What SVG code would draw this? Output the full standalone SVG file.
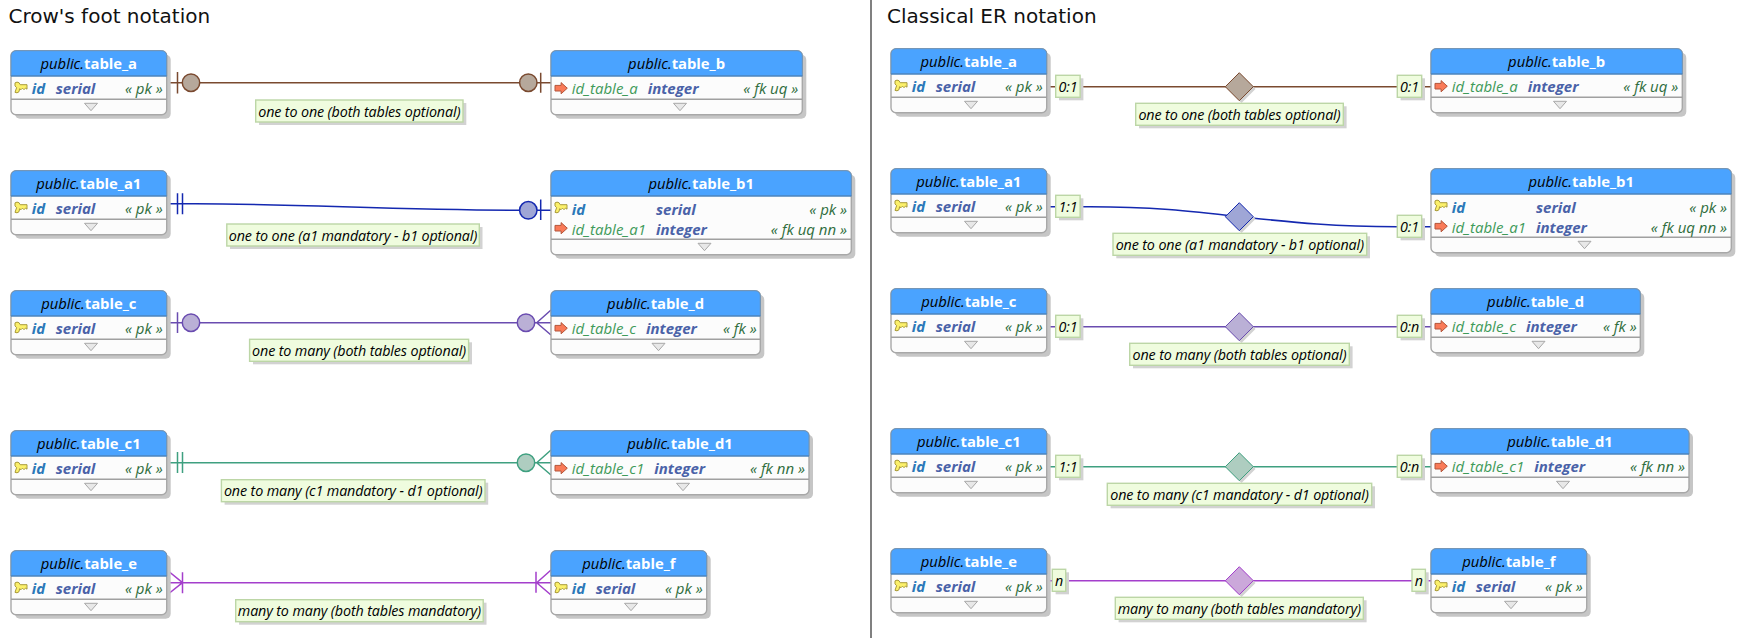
<svg xmlns="http://www.w3.org/2000/svg" xmlns:xlink="http://www.w3.org/1999/xlink" width="1750" height="638" viewBox="0 0 1750 638">
<style>
text{font-family:"Open Sans","Noto Sans","Liberation Sans",sans-serif;font-style:italic}
.title{font-family:"DejaVu Sans",sans-serif;font-style:normal;font-size:20px;fill:#111}
.shadow{fill:#c6c6c6}
.body{fill:#fcfcfc;stroke:#a8a8a8;stroke-width:1.4}
.head{fill:#4aa3ff;stroke:#6f93b5;stroke-width:1}
.sep{stroke:#a0a0a0;stroke-width:1.4;fill:none}
.hl{stroke:#3a7cc0;stroke-width:1.2}
.ht{font-size:14.8px;fill:#000;text-anchor:middle;transform:translateY(1px)}
.ht tspan{font-style:normal;font-weight:700;fill:#fff}
.pk{font-size:15px;font-weight:700;fill:#2b78b8;transform:translateY(.7px)}
.fk{font-size:15px;fill:#3f9a5a;transform:translateY(.7px)}
.ty{font-size:15px;font-weight:700;fill:#4a62a8;transform:translateY(.7px)}
.cn{font-size:15px;fill:#2f6d3c;text-anchor:end;transform:translateY(.7px)}
.lbs{fill:#d2d2d2}
.lb{fill:#effcde;stroke:#bcd6a6;stroke-width:1.4}
.lt{font-size:14.3px;letter-spacing:-.12px;fill:#000;text-anchor:middle;transform:translateY(.7px)}
.c{fill:none;stroke-width:1.5}
.br{stroke:#7a4a30}.bl{stroke:#1428b0}.pu{stroke:#6a4cb0}.gr{stroke:#3fa080}.vi{stroke:#a43fcc}
.fbr{fill:#b6a89b}.fbl{fill:#9fa6d6}.fpu{fill:#bab0d6}.fgr{fill:#aecdc0}.fvi{fill:#cba8da}
.dsh{fill:#d2d2d2}
</style>
<defs>
<g id="key"><path transform="translate(0,-1.5)" d="M1 1.2Q3 -.3 5 1L6.2 3H13V7.5L11.5 6.4 10 8 8.5 6.5 7 8 5.6 7 5 10Q3 12 1 10.6L2.6 6 1 4.2Z" fill="#fbf06a" stroke="#a89a3a" stroke-width="1"/></g>
<g id="arr"><path d="M.5 3.2H6.6V.4L12.8 6 6.6 11.6V8.8H.5Z" fill="#f97a58" stroke="#b4553a" stroke-width="1"/></g>
<path id="tri" d="M-6.5 0H6.5L0 7.4Z" fill="#e8e8e8" stroke="#a8a8a8" stroke-width="1"/>
<path id="dia" d="M-14 0L0 -14 14 0 0 14Z"/>
</defs>
<rect width="1750" height="638" fill="#fff"/>
<text class="title" x="8.5" y="23">Crow's foot notation</text>
<text class="title" x="887" y="23">Classical ER notation</text>
<rect x="870" y="0" width="2" height="638" fill="#808080"/>

<g id="connectors">
<g id="crow-ab">
<path class="c br" d="M167 82.7H551"/>
<path class="c br" d="M177.5 72V93.5M540.7 72.7V92.7"/>
<circle class="fbr br" cx="191" cy="82.7" r="8.7" stroke-width="1.5"/><circle class="fbr br" cx="528.3" cy="82.7" r="8.7" stroke-width="1.5"/>
</g>
<g id="crow-a1b1">
<path class="c bl" d="M167 203.7H195C300 204 400 210.3 519 210.3H551"/>
<path class="c bl" d="M177.5 193.3V214.3M182.5 193.3V214.3M540.7 199.5V220"/>
<circle class="fbl bl" cx="528.3" cy="210.3" r="8.7" stroke-width="1.5"/>
</g>
<g id="crow-cd">
<path class="c pu" d="M167 322.7H551M177.5 312.3V333M536.7 322.7L551 310M536.7 322.7L551 335"/>
<circle class="fpu pu" cx="191" cy="322.7" r="8.7" stroke-width="1.5"/><circle class="fpu pu" cx="526" cy="322.7" r="8.7" stroke-width="1.5"/>
</g>
<g id="crow-c1d1">
<path class="c gr" d="M167 462.7H551M177.5 452V473M182.5 452V473M536.7 462.7L551 450M536.7 462.7L551 475"/>
<circle class="fgr gr" cx="526" cy="462.7" r="8.7" stroke-width="1.5"/>
</g>
<g id="crow-ef">
<path class="c vi" d="M167 582.7H551M182.5 572.3V593.3M536 571.7V592.7M182.5 582.7L167 570M182.5 582.7L167 595M536.7 582.7L551 570M536.7 582.7L551 595"/>
</g>
<g id="er-ab">
<path class="c br" d="M1046 86.7H1431"/><use href="#dia" x="1241.5" y="89" class="dsh"/><use href="#dia" x="1239.3" y="86.7" class="fbr br" stroke-width="1"/>
</g>
<g id="er-a1b1">
<path class="c bl" d="M1046 206.7H1090C1150 206.7 1190 211 1239.3 216.7C1290 222 1330 226.7 1397 226.7H1431"/><use href="#dia" x="1241.5" y="219" class="dsh"/><use href="#dia" x="1239.3" y="216.7" class="fbl bl" stroke-width="1"/>
</g>
<g id="er-cd">
<path class="c pu" d="M1046 326.7H1431"/><use href="#dia" x="1241.5" y="329" class="dsh"/><use href="#dia" x="1239.3" y="326.7" class="fpu pu" stroke-width="1"/>
</g>
<g id="er-c1d1">
<path class="c gr" d="M1046 466.7H1431"/><use href="#dia" x="1241.5" y="469" class="dsh"/><use href="#dia" x="1239.3" y="466.7" class="fgr gr" stroke-width="1"/>
</g>
<g id="er-ef">
<path class="c vi" d="M1046 580.7H1431"/><use href="#dia" x="1241.5" y="583" class="dsh"/><use href="#dia" x="1239.3" y="580.7" class="fvi vi" stroke-width="1"/>
</g>
</g>

<g id="cf-table_a" transform="translate(11,50.7)">
<rect class="shadow" x="4" y="4" width="155.7" height="64" rx="5"/><rect class="body" width="155.7" height="64" rx="5"/>
<path class="head" d="M0 25.3V5A5 5 0 0 1 5 0H150.7A5 5 0 0 1 155.7 5V25.3Z"/><path class="hl" d="M0 25.3H155.7"/><path class="sep" d="M0 48.6H155.7"/>
<text class="ht" x="77.8" y="17.8">public.<tspan>table_a</tspan></text>
<use href="#key" x="3" y="32.5"/><text class="pk" x="20.7" y="43">id</text><text class="ty" x="44.7" y="43">serial</text><text class="cn" x="151.7" y="43">« pk »</text>
<use href="#tri" x="80" y="52.6"/>
</g>
<g id="cf-table_b" transform="translate(551,50.7)">
<rect class="shadow" x="4" y="4" width="251.3" height="64" rx="5"/><rect class="body" width="251.3" height="64" rx="5"/>
<path class="head" d="M0 25.3V5A5 5 0 0 1 5 0H246.3A5 5 0 0 1 251.3 5V25.3Z"/><path class="hl" d="M0 25.3H251.3"/><path class="sep" d="M0 48.6H251.3"/>
<text class="ht" x="125.6" y="17.8">public.<tspan>table_b</tspan></text>
<use href="#arr" x="3.5" y="31.5"/><text class="fk" x="20.7" y="43">id_table_a</text><text class="ty" x="96.7" y="43">integer</text><text class="cn" x="247.3" y="43">« fk uq »</text>
<use href="#tri" x="129" y="52.6"/>
</g>
<g id="cf-table_a1" transform="translate(11,170.7)">
<rect class="shadow" x="4" y="4" width="155.7" height="64" rx="5"/><rect class="body" width="155.7" height="64" rx="5"/>
<path class="head" d="M0 25.3V5A5 5 0 0 1 5 0H150.7A5 5 0 0 1 155.7 5V25.3Z"/><path class="hl" d="M0 25.3H155.7"/><path class="sep" d="M0 48.6H155.7"/>
<text class="ht" x="77.8" y="17.8">public.<tspan>table_a1</tspan></text>
<use href="#key" x="3" y="32.5"/><text class="pk" x="20.7" y="43">id</text><text class="ty" x="44.7" y="43">serial</text><text class="cn" x="151.7" y="43">« pk »</text>
<use href="#tri" x="80" y="52.6"/>
</g>
<g id="cf-table_b1" transform="translate(551,170.7)">
<rect class="shadow" x="4" y="4" width="300.3" height="84" rx="5"/><rect class="body" width="300.3" height="84" rx="5"/>
<path class="head" d="M0 25.3V5A5 5 0 0 1 5 0H295.3A5 5 0 0 1 300.3 5V25.3Z"/><path class="hl" d="M0 25.3H300.3"/><path class="sep" d="M0 68.6H300.3"/>
<text class="ht" x="150.2" y="17.8">public.<tspan>table_b1</tspan></text>
<use href="#key" x="3" y="32.5"/><text class="pk" x="20.7" y="43.6">id</text><text class="ty" x="105" y="43.6">serial</text><text class="cn" x="296" y="43.6">« pk »</text>
<use href="#arr" x="3.5" y="51.5"/><text class="fk" x="20.7" y="63.6">id_table_a1</text><text class="ty" x="105" y="63.6">integer</text><text class="cn" x="296" y="63.6">« fk uq nn »</text>
<use href="#tri" x="153.5" y="72.6"/>
</g>
<g id="cf-table_c" transform="translate(11,290.7)">
<rect class="shadow" x="4" y="4" width="155.7" height="64" rx="5"/><rect class="body" width="155.7" height="64" rx="5"/>
<path class="head" d="M0 25.3V5A5 5 0 0 1 5 0H150.7A5 5 0 0 1 155.7 5V25.3Z"/><path class="hl" d="M0 25.3H155.7"/><path class="sep" d="M0 48.6H155.7"/>
<text class="ht" x="77.8" y="17.8">public.<tspan>table_c</tspan></text>
<use href="#key" x="3" y="32.5"/><text class="pk" x="20.7" y="43">id</text><text class="ty" x="44.7" y="43">serial</text><text class="cn" x="151.7" y="43">« pk »</text>
<use href="#tri" x="80" y="52.6"/>
</g>
<g id="cf-table_d" transform="translate(551,290.7)">
<rect class="shadow" x="4" y="4" width="209.3" height="64" rx="5"/><rect class="body" width="209.3" height="64" rx="5"/>
<path class="head" d="M0 25.3V5A5 5 0 0 1 5 0H204.3A5 5 0 0 1 209.3 5V25.3Z"/><path class="hl" d="M0 25.3H209.3"/><path class="sep" d="M0 48.6H209.3"/>
<text class="ht" x="104.6" y="17.8">public.<tspan>table_d</tspan></text>
<use href="#arr" x="3.5" y="31.5"/><text class="fk" x="20.7" y="43">id_table_c</text><text class="ty" x="95" y="43">integer</text><text class="cn" x="205.7" y="43">« fk »</text>
<use href="#tri" x="107.5" y="52.6"/>
</g>
<g id="cf-table_c1" transform="translate(11,430.7)">
<rect class="shadow" x="4" y="4" width="155.7" height="64" rx="5"/><rect class="body" width="155.7" height="64" rx="5"/>
<path class="head" d="M0 25.3V5A5 5 0 0 1 5 0H150.7A5 5 0 0 1 155.7 5V25.3Z"/><path class="hl" d="M0 25.3H155.7"/><path class="sep" d="M0 48.6H155.7"/>
<text class="ht" x="77.8" y="17.8">public.<tspan>table_c1</tspan></text>
<use href="#key" x="3" y="32.5"/><text class="pk" x="20.7" y="43">id</text><text class="ty" x="44.7" y="43">serial</text><text class="cn" x="151.7" y="43">« pk »</text>
<use href="#tri" x="80" y="52.6"/>
</g>
<g id="cf-table_d1" transform="translate(551,430.7)">
<rect class="shadow" x="4" y="4" width="258" height="64" rx="5"/><rect class="body" width="258" height="64" rx="5"/>
<path class="head" d="M0 25.3V5A5 5 0 0 1 5 0H253A5 5 0 0 1 258 5V25.3Z"/><path class="hl" d="M0 25.3H258"/><path class="sep" d="M0 48.6H258"/>
<text class="ht" x="129" y="17.8">public.<tspan>table_d1</tspan></text>
<use href="#arr" x="3.5" y="31.5"/><text class="fk" x="20.7" y="43">id_table_c1</text><text class="ty" x="103.3" y="43">integer</text><text class="cn" x="254" y="43">« fk nn »</text>
<use href="#tri" x="132" y="52.6"/>
</g>
<g id="cf-table_e" transform="translate(11,550.7)">
<rect class="shadow" x="4" y="4" width="155.7" height="64" rx="5"/><rect class="body" width="155.7" height="64" rx="5"/>
<path class="head" d="M0 25.3V5A5 5 0 0 1 5 0H150.7A5 5 0 0 1 155.7 5V25.3Z"/><path class="hl" d="M0 25.3H155.7"/><path class="sep" d="M0 48.6H155.7"/>
<text class="ht" x="77.8" y="17.8">public.<tspan>table_e</tspan></text>
<use href="#key" x="3" y="32.5"/><text class="pk" x="20.7" y="43">id</text><text class="ty" x="44.7" y="43">serial</text><text class="cn" x="151.7" y="43">« pk »</text>
<use href="#tri" x="80" y="52.6"/>
</g>
<g id="cf-table_f" transform="translate(551,550.7)">
<rect class="shadow" x="4" y="4" width="155.7" height="64" rx="5"/><rect class="body" width="155.7" height="64" rx="5"/>
<path class="head" d="M0 25.3V5A5 5 0 0 1 5 0H150.7A5 5 0 0 1 155.7 5V25.3Z"/><path class="hl" d="M0 25.3H155.7"/><path class="sep" d="M0 48.6H155.7"/>
<text class="ht" x="77.8" y="17.8">public.<tspan>table_f</tspan></text>
<use href="#key" x="3" y="32.5"/><text class="pk" x="20.7" y="43">id</text><text class="ty" x="44.7" y="43">serial</text><text class="cn" x="151.7" y="43">« pk »</text>
<use href="#tri" x="80" y="52.6"/>
</g>

<g id="er-table_a" transform="translate(891,48.7)">
<rect class="shadow" x="4" y="4" width="155.7" height="64" rx="5"/><rect class="body" width="155.7" height="64" rx="5"/>
<path class="head" d="M0 25.3V5A5 5 0 0 1 5 0H150.7A5 5 0 0 1 155.7 5V25.3Z"/><path class="hl" d="M0 25.3H155.7"/><path class="sep" d="M0 48.6H155.7"/>
<text class="ht" x="77.8" y="17.8">public.<tspan>table_a</tspan></text>
<use href="#key" x="3" y="32.5"/><text class="pk" x="20.7" y="43">id</text><text class="ty" x="44.7" y="43">serial</text><text class="cn" x="151.7" y="43">« pk »</text>
<use href="#tri" x="80" y="52.6"/>
</g>
<g id="er-table_b" transform="translate(1431,48.7)">
<rect class="shadow" x="4" y="4" width="251.3" height="64" rx="5"/><rect class="body" width="251.3" height="64" rx="5"/>
<path class="head" d="M0 25.3V5A5 5 0 0 1 5 0H246.3A5 5 0 0 1 251.3 5V25.3Z"/><path class="hl" d="M0 25.3H251.3"/><path class="sep" d="M0 48.6H251.3"/>
<text class="ht" x="125.6" y="17.8">public.<tspan>table_b</tspan></text>
<use href="#arr" x="3.5" y="31.5"/><text class="fk" x="20.7" y="43">id_table_a</text><text class="ty" x="96.7" y="43">integer</text><text class="cn" x="247.3" y="43">« fk uq »</text>
<use href="#tri" x="129" y="52.6"/>
</g>
<g id="er-table_a1" transform="translate(891,168.7)">
<rect class="shadow" x="4" y="4" width="155.7" height="64" rx="5"/><rect class="body" width="155.7" height="64" rx="5"/>
<path class="head" d="M0 25.3V5A5 5 0 0 1 5 0H150.7A5 5 0 0 1 155.7 5V25.3Z"/><path class="hl" d="M0 25.3H155.7"/><path class="sep" d="M0 48.6H155.7"/>
<text class="ht" x="77.8" y="17.8">public.<tspan>table_a1</tspan></text>
<use href="#key" x="3" y="32.5"/><text class="pk" x="20.7" y="43">id</text><text class="ty" x="44.7" y="43">serial</text><text class="cn" x="151.7" y="43">« pk »</text>
<use href="#tri" x="80" y="52.6"/>
</g>
<g id="er-table_b1" transform="translate(1431,168.7)">
<rect class="shadow" x="4" y="4" width="300.3" height="84" rx="5"/><rect class="body" width="300.3" height="84" rx="5"/>
<path class="head" d="M0 25.3V5A5 5 0 0 1 5 0H295.3A5 5 0 0 1 300.3 5V25.3Z"/><path class="hl" d="M0 25.3H300.3"/><path class="sep" d="M0 68.6H300.3"/>
<text class="ht" x="150.2" y="17.8">public.<tspan>table_b1</tspan></text>
<use href="#key" x="3" y="32.5"/><text class="pk" x="20.7" y="43.6">id</text><text class="ty" x="105" y="43.6">serial</text><text class="cn" x="296" y="43.6">« pk »</text>
<use href="#arr" x="3.5" y="51.5"/><text class="fk" x="20.7" y="63.6">id_table_a1</text><text class="ty" x="105" y="63.6">integer</text><text class="cn" x="296" y="63.6">« fk uq nn »</text>
<use href="#tri" x="153.5" y="72.6"/>
</g>
<g id="er-table_c" transform="translate(891,288.7)">
<rect class="shadow" x="4" y="4" width="155.7" height="64" rx="5"/><rect class="body" width="155.7" height="64" rx="5"/>
<path class="head" d="M0 25.3V5A5 5 0 0 1 5 0H150.7A5 5 0 0 1 155.7 5V25.3Z"/><path class="hl" d="M0 25.3H155.7"/><path class="sep" d="M0 48.6H155.7"/>
<text class="ht" x="77.8" y="17.8">public.<tspan>table_c</tspan></text>
<use href="#key" x="3" y="32.5"/><text class="pk" x="20.7" y="43">id</text><text class="ty" x="44.7" y="43">serial</text><text class="cn" x="151.7" y="43">« pk »</text>
<use href="#tri" x="80" y="52.6"/>
</g>
<g id="er-table_d" transform="translate(1431,288.7)">
<rect class="shadow" x="4" y="4" width="209.3" height="64" rx="5"/><rect class="body" width="209.3" height="64" rx="5"/>
<path class="head" d="M0 25.3V5A5 5 0 0 1 5 0H204.3A5 5 0 0 1 209.3 5V25.3Z"/><path class="hl" d="M0 25.3H209.3"/><path class="sep" d="M0 48.6H209.3"/>
<text class="ht" x="104.6" y="17.8">public.<tspan>table_d</tspan></text>
<use href="#arr" x="3.5" y="31.5"/><text class="fk" x="20.7" y="43">id_table_c</text><text class="ty" x="95" y="43">integer</text><text class="cn" x="205.7" y="43">« fk »</text>
<use href="#tri" x="107.5" y="52.6"/>
</g>
<g id="er-table_c1" transform="translate(891,428.7)">
<rect class="shadow" x="4" y="4" width="155.7" height="64" rx="5"/><rect class="body" width="155.7" height="64" rx="5"/>
<path class="head" d="M0 25.3V5A5 5 0 0 1 5 0H150.7A5 5 0 0 1 155.7 5V25.3Z"/><path class="hl" d="M0 25.3H155.7"/><path class="sep" d="M0 48.6H155.7"/>
<text class="ht" x="77.8" y="17.8">public.<tspan>table_c1</tspan></text>
<use href="#key" x="3" y="32.5"/><text class="pk" x="20.7" y="43">id</text><text class="ty" x="44.7" y="43">serial</text><text class="cn" x="151.7" y="43">« pk »</text>
<use href="#tri" x="80" y="52.6"/>
</g>
<g id="er-table_d1" transform="translate(1431,428.7)">
<rect class="shadow" x="4" y="4" width="258" height="64" rx="5"/><rect class="body" width="258" height="64" rx="5"/>
<path class="head" d="M0 25.3V5A5 5 0 0 1 5 0H253A5 5 0 0 1 258 5V25.3Z"/><path class="hl" d="M0 25.3H258"/><path class="sep" d="M0 48.6H258"/>
<text class="ht" x="129" y="17.8">public.<tspan>table_d1</tspan></text>
<use href="#arr" x="3.5" y="31.5"/><text class="fk" x="20.7" y="43">id_table_c1</text><text class="ty" x="103.3" y="43">integer</text><text class="cn" x="254" y="43">« fk nn »</text>
<use href="#tri" x="132" y="52.6"/>
</g>
<g id="er-table_e" transform="translate(891,548.7)">
<rect class="shadow" x="4" y="4" width="155.7" height="64" rx="5"/><rect class="body" width="155.7" height="64" rx="5"/>
<path class="head" d="M0 25.3V5A5 5 0 0 1 5 0H150.7A5 5 0 0 1 155.7 5V25.3Z"/><path class="hl" d="M0 25.3H155.7"/><path class="sep" d="M0 48.6H155.7"/>
<text class="ht" x="77.8" y="17.8">public.<tspan>table_e</tspan></text>
<use href="#key" x="3" y="32.5"/><text class="pk" x="20.7" y="43">id</text><text class="ty" x="44.7" y="43">serial</text><text class="cn" x="151.7" y="43">« pk »</text>
<use href="#tri" x="80" y="52.6"/>
</g>
<g id="er-table_f" transform="translate(1431,548.7)">
<rect class="shadow" x="4" y="4" width="155.7" height="64" rx="5"/><rect class="body" width="155.7" height="64" rx="5"/>
<path class="head" d="M0 25.3V5A5 5 0 0 1 5 0H150.7A5 5 0 0 1 155.7 5V25.3Z"/><path class="hl" d="M0 25.3H155.7"/><path class="sep" d="M0 48.6H155.7"/>
<text class="ht" x="77.8" y="17.8">public.<tspan>table_f</tspan></text>
<use href="#key" x="3" y="32.5"/><text class="pk" x="20.7" y="43">id</text><text class="ty" x="44.7" y="43">serial</text><text class="cn" x="151.7" y="43">« pk »</text>
<use href="#tri" x="80" y="52.6"/>
</g>

<g id="labels">
<g id="lbl-cf-ab"><rect class="lbs" x="259" y="103" width="207.3" height="22"/><rect class="lb" x="255.7" y="100" width="207.3" height="22"/><text class="lt" x="359.3" y="116">one to one (both tables optional)</text></g>
<g id="lbl-cf-a1b1"><rect class="lbs" x="230" y="227" width="252.5" height="22"/><rect class="lb" x="226.8" y="224" width="252.5" height="22"/><text class="lt" x="353" y="240">one to one (a1 mandatory - b1 optional)</text></g>
<g id="lbl-cf-cd"><rect class="lbs" x="253" y="342.3" width="219" height="22"/><rect class="lb" x="249.6" y="339.3" width="219" height="22"/><text class="lt" x="359.1" y="355.3">one to many (both tables optional)</text></g>
<g id="lbl-cf-c1d1"><rect class="lbs" x="224.6" y="482.7" width="263.6" height="22"/><rect class="lb" x="221.4" y="479.7" width="263.6" height="22"/><text class="lt" x="353.2" y="495.7">one to many (c1 mandatory - d1 optional)</text></g>
<g id="lbl-cf-ef"><rect class="lbs" x="239" y="602.7" width="247.5" height="22"/><rect class="lb" x="235.7" y="599.7" width="247.5" height="22"/><text class="lt" x="359.4" y="615.7">many to many (both tables mandatory)</text></g>
<g id="lbl-er-ab"><rect class="lbs" x="1139" y="106.3" width="207.6" height="22"/><rect class="lb" x="1135.7" y="103.3" width="207.6" height="22"/><text class="lt" x="1239.5" y="119.3">one to one (both tables optional)</text></g>
<g id="lbl-er-a1b1"><rect class="lbs" x="1116.3" y="236.3" width="253.7" height="22"/><rect class="lb" x="1113" y="233.3" width="253.7" height="22"/><text class="lt" x="1239.8" y="249.3">one to one (a1 mandatory - b1 optional)</text></g>
<g id="lbl-er-cd"><rect class="lbs" x="1133" y="346.3" width="219.6" height="22"/><rect class="lb" x="1129.7" y="343.3" width="219.6" height="22"/><text class="lt" x="1239.5" y="359.3">one to many (both tables optional)</text></g>
<g id="lbl-er-c1d1"><rect class="lbs" x="1110.6" y="486.3" width="264.4" height="22"/><rect class="lb" x="1107.3" y="483.3" width="264.4" height="22"/><text class="lt" x="1239.5" y="499.3">one to many (c1 mandatory - d1 optional)</text></g>
<g id="lbl-er-ef"><rect class="lbs" x="1118.6" y="600.3" width="248" height="22"/><rect class="lb" x="1115.3" y="597.3" width="248" height="22"/><text class="lt" x="1239.3" y="613.3">many to many (both tables mandatory)</text></g>
<g id="card-a-l"><rect class="lbs" x="1059" y="78.3" width="24.4" height="22"/><rect class="lb" x="1055.7" y="75.3" width="24.4" height="22"/><text class="lt" x="1067.9" y="91">0:1</text></g>
<g id="card-a-r"><rect class="lbs" x="1400.6" y="78.3" width="24.4" height="22"/><rect class="lb" x="1397.3" y="75.3" width="24.4" height="22"/><text class="lt" x="1409.5" y="91">0:1</text></g>
<g id="card-a1-l"><rect class="lbs" x="1059" y="198.3" width="24.4" height="22"/><rect class="lb" x="1055.7" y="195.3" width="24.4" height="22"/><text class="lt" x="1067.9" y="211">1:1</text></g>
<g id="card-b1-r"><rect class="lbs" x="1400.6" y="218.3" width="24.4" height="22"/><rect class="lb" x="1397.3" y="215.3" width="24.4" height="22"/><text class="lt" x="1409.5" y="231">0:1</text></g>
<g id="card-c-l"><rect class="lbs" x="1059" y="318.3" width="24.4" height="22"/><rect class="lb" x="1055.7" y="315.3" width="24.4" height="22"/><text class="lt" x="1067.9" y="331">0:1</text></g>
<g id="card-d-r"><rect class="lbs" x="1400.6" y="318.3" width="24.4" height="22"/><rect class="lb" x="1397.3" y="315.3" width="24.4" height="22"/><text class="lt" x="1409.5" y="331">0:n</text></g>
<g id="card-c1-l"><rect class="lbs" x="1059" y="458.3" width="24.4" height="22"/><rect class="lb" x="1055.7" y="455.3" width="24.4" height="22"/><text class="lt" x="1067.9" y="471">1:1</text></g>
<g id="card-d1-r"><rect class="lbs" x="1400.6" y="458.3" width="24.4" height="22"/><rect class="lb" x="1397.3" y="455.3" width="24.4" height="22"/><text class="lt" x="1409.5" y="471">0:n</text></g>
<g id="card-e-l"><rect class="lbs" x="1055.6" y="572.3" width="13.4" height="22"/><rect class="lb" x="1052.3" y="569.3" width="13.4" height="22"/><text class="lt" x="1059" y="585">n</text></g>
<g id="card-f-r"><rect class="lbs" x="1415.3" y="572.3" width="13.4" height="22"/><rect class="lb" x="1412" y="569.3" width="13.4" height="22"/><text class="lt" x="1418.7" y="585">n</text></g>
</g>
</svg>
